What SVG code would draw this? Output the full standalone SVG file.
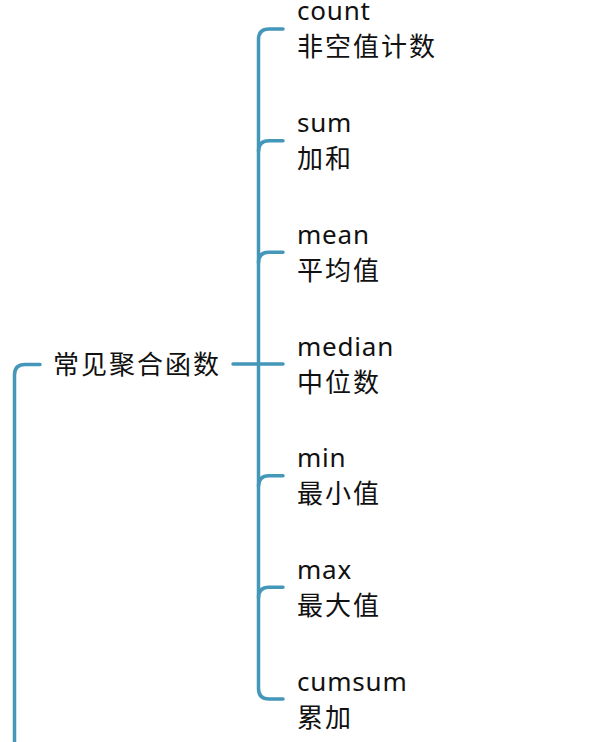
<svg xmlns="http://www.w3.org/2000/svg" width="596" height="742" viewBox="0 0 596 742">
<style>
.ln{fill:none;stroke:#4497b8;stroke-width:3.5;stroke-linecap:round}
.t{font-family:"Noto Sans","Noto Sans CJK SC",sans-serif;font-size:26px;fill:#111;letter-spacing:0.8px}
.c{letter-spacing:2px}
</style>
<rect width="596" height="742" fill="#fff"/>
<g id="connectors">
<path class="ln" d="M40,364.5 H25 Q14.5,364.5 14.5,375 V745"/>
<path class="ln" d="M233,364 H283"/>
<path class="ln" d="M283,29 H269 Q258.5,29 258.5,39.5 V688.5 Q258.5,699 269,699 H283"/>
<path class="ln" d="M283,140.7 H269 Q258.5,140.7 258.5,151.2"/>
<path class="ln" d="M283,252.3 H269 Q258.5,252.3 258.5,262.8"/>
<path class="ln" d="M283,475.7 H269 Q258.5,475.7 258.5,486.2"/>
<path class="ln" d="M283,587.3 H269 Q258.5,587.3 258.5,597.8"/>
</g>
<g id="root"><text class="t c" x="53" y="374">常见聚合函数</text></g>
<g id="count"><text class="t" x="297" y="20">count</text><text class="t c" x="297" y="56">非空值计数</text></g>
<g id="sum"><text class="t" x="297" y="132">sum</text><text class="t c" x="297" y="168">加和</text></g>
<g id="mean"><text class="t" x="297" y="244">mean</text><text class="t c" x="297" y="280">平均值</text></g>
<g id="median"><text class="t" x="297" y="356">median</text><text class="t c" x="297" y="392">中位数</text></g>
<g id="min"><text class="t" x="297" y="467">min</text><text class="t c" x="297" y="503">最小值</text></g>
<g id="max"><text class="t" x="297" y="579">max</text><text class="t c" x="297" y="615">最大值</text></g>
<g id="cumsum"><text class="t" x="297" y="691">cumsum</text><text class="t c" x="297" y="727">累加</text></g>
</svg>
